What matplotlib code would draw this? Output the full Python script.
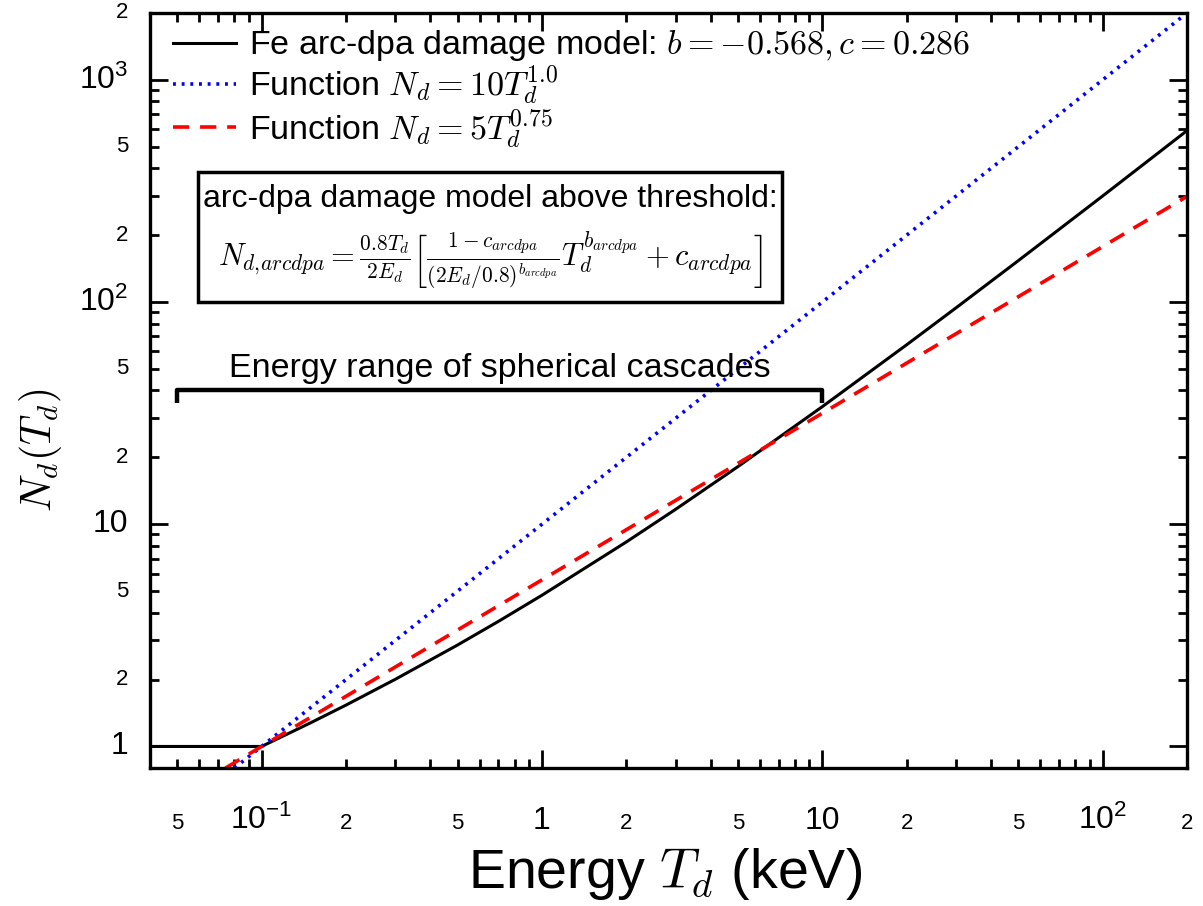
import matplotlib
matplotlib.use('Agg')
import matplotlib.pyplot as plt
from matplotlib.patches import Rectangle

plt.rcParams['font.family'] = ['Liberation Sans', 'DejaVu Sans']
plt.rcParams['mathtext.fontset'] = 'cm'

# Fe arc-dpa damage model
arc_T = [0.04, 0.1, 0.15, 0.2, 0.3, 0.5, 0.7, 1, 2, 3, 5, 10, 20, 30, 50, 100, 200]
arc_N = [1.0, 1.0, 1.28, 1.535, 2.006, 2.861, 3.657, 4.791, 8.324, 11.68, 18.17,
         33.82, 64.24, 94.2, 153.5, 300.1, 591.0]

# N_d = 10 T_d
lin_T = [0.08, 0.1, 1, 10, 100, 200]
lin_N = [0.8, 1.0, 10, 100, 1000, 2000]

# N_d = 5 T_d^0.75 (as drawn)
pow_T = [0.0744, 0.1, 1, 10, 100, 200]
pow_N = [0.8, 1.0, 5.62, 31.6, 177.7, 299.0]

# bracket marking the spherical cascade range
bracket_T = [0.05, 10]
bracket_N = [35, 40]
bracket_label_N = 46

x_major = [0.1, 1, 10, 100]
x_major_lbl = [r'$\mathregular{10^{-1}}$', '1', '10', r'$\mathregular{10^{2}}$']
x_minor = [0.05, 0.2, 0.5, 2, 5, 20, 50, 200]
x_minor_lbl = ['5', '2', '5', '2', '5', '2', '5', '2']
y_major = [1, 10, 100, 1000]
y_major_lbl = ['1', '10', r'$\mathregular{10^{2}}$', r'$\mathregular{10^{3}}$']
y_minor = [2, 5, 20, 50, 200, 500, 2000]
y_minor_lbl = ['2', '5', '2', '5', '2', '5', '2']

fig = plt.figure(figsize=(12.03, 9.06), dpi=100)
ax = fig.add_axes([150 / 1203, 138 / 906, 1037 / 1203, 755 / 906])

ax.plot(arc_T, arc_N, color='black', lw=2.2,
        label=r'Fe arc-dpa damage model: $b = -0.568, c = 0.286$')
ax.plot(lin_T, lin_N, color='blue', ls=(0, (0.8, 1.6)), lw=2.6,
        label=r'Function $N_d = 10T_d^{1.0}$')
ax.plot(pow_T, pow_N, color='red', ls=(0, (4.5, 3)), lw=2.6,
        label=r'Function $N_d = 5T_d^{0.75}$')

ax.set_xscale('log')
ax.set_yscale('log')
ax.set_xlim(0.04, 200)
ax.set_ylim(0.8, 2000)

# gnuplot-like ticks, labels placed by hand so baselines line up
ax.set_xticks(x_major)
ax.set_yticks(y_major)
ax.set_xticks([m * 10.0 ** e for e in range(-2, 3) for m in range(2, 10)
               if 0.04 <= m * 10.0 ** e <= 200], minor=True)
ax.set_yticks([m * 10.0 ** e for e in range(0, 4) for m in range(2, 10)
               if 0.8 <= m * 10.0 ** e <= 2000], minor=True)
ax.tick_params(which='both', direction='in', top=True, right=True,
               labelbottom=False, labelleft=False, width=2)
ax.tick_params(which='major', length=13)
ax.tick_params(which='minor', length=6.5)
for s in ax.spines.values():
    s.set_linewidth(2.4)

xt = ax.get_xaxis_transform()
yt = ax.get_yaxis_transform()
for v, l in zip(x_major, x_major_lbl):
    ax.text(v, -0.081, l, transform=xt, ha='center', va='baseline', fontsize=23, clip_on=False)
for v, l in zip(x_minor, x_minor_lbl):
    ax.text(v, -0.081, l, transform=xt, ha='center', va='baseline', fontsize=16, clip_on=False)
for v, l in zip(y_major, y_major_lbl):
    ax.text(-0.021, v, l, transform=yt, ha='right', va='center', fontsize=23, clip_on=False)
for v, l in zip(y_minor, y_minor_lbl):
    ax.text(-0.021, v, l, transform=yt, ha='right', va='center', fontsize=16, clip_on=False)

fig.text(0.553, 0.035, r'Energy $T_d$ (keV)', ha='center', va='center', fontsize=40)
fig.text(0.034, 0.503, r'$N_d(T_d)$', ha='center', va='center', rotation=90, fontsize=30)

ax.legend(loc='upper left', frameon=False, fontsize=24.5, handlelength=1.85,
          handletextpad=0.4, labelspacing=0.0, borderaxespad=0.1, borderpad=0.2,
          bbox_to_anchor=(0.012, 0.993))

# formula box
ax.add_patch(Rectangle((0.0463, 0.617), 0.563, 0.172, transform=ax.transAxes,
                       fill=False, lw=2.5, color='black'))
ax.text(0.328, 0.754, 'arc-dpa damage model above threshold:', transform=ax.transAxes,
        ha='center', va='center', fontsize=23)
ax.text(0.328, 0.672,
        r'$N_{d,\!arcdpa} = \frac{0.8T_d}{2E_d}\left[\frac{1-c_{arcdpa}}{(2E_d/0.8)^{b_{arcdpa}}}'
        r'T_d^{b_{arcdpa}} + c_{arcdpa}\right]$',
        transform=ax.transAxes, ha='center', va='center', fontsize=22)

# bracket
ax.plot([bracket_T[0], bracket_T[0], bracket_T[1], bracket_T[1]],
        [bracket_N[0], bracket_N[1], bracket_N[1], bracket_N[0]],
        color='black', lw=3.2, solid_capstyle='butt')
ax.text((bracket_T[0] * bracket_T[1]) ** 0.5, bracket_label_N,
        'Energy range of spherical cascades', ha='center', va='baseline', fontsize=24.5)

fig.savefig('out.png', dpi=100)
